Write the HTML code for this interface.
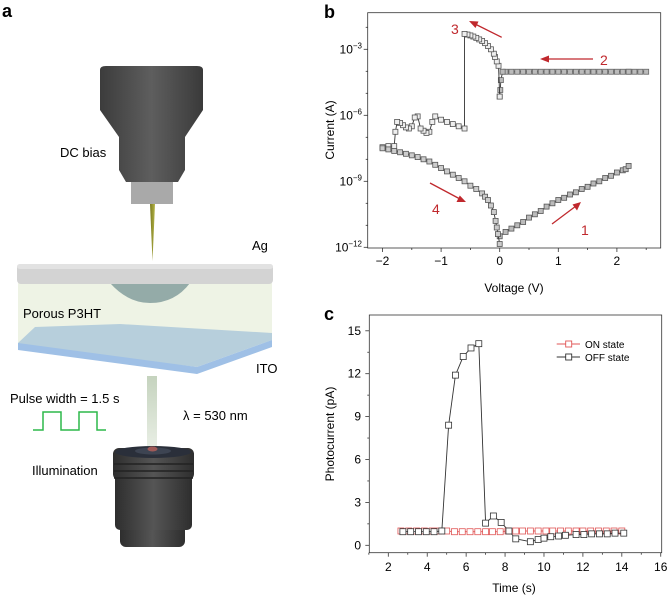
<!DOCTYPE html>
<html><head><meta charset="utf-8"><style>
html,body{margin:0;padding:0;background:#fff;}
svg{display:block;font-family:"Liberation Sans",Arial,sans-serif;}
</style></head><body>
<svg id="fig" width="669" height="600" viewBox="0 0 669 600" xmlns="http://www.w3.org/2000/svg">
<defs>
<linearGradient id="objG" x1="0" x2="1"><stop offset="0" stop-color="#3c3c3c"/><stop offset="0.5" stop-color="#5e5e5e"/><stop offset="1" stop-color="#3a3a3a"/></linearGradient>
<linearGradient id="illG" x1="0" x2="1"><stop offset="0" stop-color="#2e2e2e"/><stop offset="0.5" stop-color="#555"/><stop offset="1" stop-color="#2e2e2e"/></linearGradient>
<linearGradient id="beamG" x1="0" y1="0" x2="0" y2="1"><stop offset="0" stop-color="#c5d3be"/><stop offset="1" stop-color="#e8eee4"/></linearGradient>
<linearGradient id="needleG" x1="0" x2="1"><stop offset="0" stop-color="#7a7a20"/><stop offset="1" stop-color="#b5b548"/></linearGradient>
</defs>

<!-- Panel a -->
<g>
<text x="2" y="17" font-size="18" font-weight="bold">a</text>
<path d="M100,70 Q100,66 106,66 L197,66 Q203,66 203,70 L203,110 L185,137 L185,170 L178,182 L126,182 L119,170 L119,137 L100,110 Z" fill="url(#objG)"/>
<rect x="131" y="182" width="42" height="22" fill="#a9a9a9"/>
<polygon points="150,204 155,204 152.5,261" fill="url(#needleG)"/>
<text x="60" y="157" font-size="13">DC bias</text>
<text x="252" y="250" font-size="13">Ag</text>
<rect x="18" y="283" width="254" height="60" fill="#eef3e5"/>
<polygon points="18,343 35,327 120,324 272,333 272,340 197,367 18,346" fill="#b7cfdc"/>
<polygon points="18,343 197,367 272,340 272,347 197,374 18,350" fill="#9fc0e6"/>
<path d="M110,283 Q128,303 150,303 Q175,303 190,283 Z" fill="#94aba8"/>
<rect x="17" y="264" width="256" height="20" rx="4" fill="#d3d3d3"/>
<rect x="17" y="264" width="256" height="5" rx="3" fill="#e2e2e2"/>
<text x="23" y="318" font-size="13">Porous P3HT</text>
<text x="256" y="373" font-size="13">ITO</text>
<rect x="147" y="376" width="10" height="71" fill="url(#beamG)"/>
<text x="10" y="403" font-size="13">Pulse width = 1.5 s</text>
<polyline points="33,430 43,430 43,412 61,412 61,430 79,430 79,412 97,412 97,430 106,430" fill="none" stroke="#2db84a" stroke-width="1.5"/>
<text x="183" y="420" font-size="13">λ = 530 nm</text>
<g>
<rect x="120" y="520" width="65" height="27" rx="6" fill="url(#illG)"/>
<rect x="115" y="470" width="77" height="60" rx="5" fill="url(#illG)"/>
<rect x="113" y="448" width="81" height="32" rx="6" fill="url(#illG)"/>
<line x1="114" y1="464" x2="193" y2="464" stroke="#222" stroke-width="1.5"/>
<line x1="114" y1="471" x2="193" y2="471" stroke="#222" stroke-width="1.5"/>
<line x1="114" y1="478" x2="193" y2="478" stroke="#222" stroke-width="1.5"/>
<ellipse cx="153" cy="452" rx="38" ry="6" fill="#2a2f3a"/>
<ellipse cx="153" cy="451" rx="18" ry="3.5" fill="#3d4452"/>
<ellipse cx="152.5" cy="449" rx="5" ry="2.5" fill="#a05a58"/>
</g>
<text x="32" y="475" font-size="13">Illumination</text>
</g>

<!-- Panel b -->
<g id="pb">
<text x="324" y="18" font-size="18" font-weight="bold">b</text>
<rect x="367.7" y="12.7" width="293" height="235.3" fill="none" stroke="#333" stroke-width="0.8"/>
<text transform="translate(334,130) rotate(-90)" text-anchor="middle" font-size="12">Current (A)</text>
<text x="514" y="292" text-anchor="middle" font-size="12">Voltage (V)</text>
</g>

<!-- Panel c -->
<g id="pc">
<text x="324" y="320" font-size="18" font-weight="bold">c</text>
<rect x="369.3" y="315" width="292.4" height="237.7" fill="none" stroke="#333" stroke-width="0.8"/>
<text transform="translate(334,434) rotate(-90)" text-anchor="middle" font-size="12">Photocurrent (pA)</text>
<text x="514" y="592" text-anchor="middle" font-size="12">Time (s)</text>
<line x1="556.7" y1="344" x2="580" y2="344" stroke="#e05555" stroke-width="1"/>
<rect x="565.7" y="341" width="6" height="6" fill="#fff" stroke="#e05555" stroke-width="0.9"/>
<text x="585" y="348" font-size="10">ON state</text>
<line x1="556.7" y1="357" x2="580" y2="357" stroke="#333" stroke-width="1"/>
<rect x="565.7" y="354" width="6" height="6" fill="#fff" stroke="#333" stroke-width="0.9"/>
<text x="585" y="361" font-size="10">OFF state</text>
</g>

<!-- arrows -->
<g fill="#c0282d" font-size="14">
<line x1="593" y1="59" x2="546" y2="59" stroke="#c0282d" stroke-width="1.3"/><polygon points="540,59 549,55.5 549,62.5"/>
<text x="600" y="65">2</text>
<line x1="501.7" y1="37.3" x2="475" y2="24" stroke="#c0282d" stroke-width="1.3"/><polygon points="469,21 478.5,21.5 475.5,28"/>
<text x="451" y="34">3</text>
<line x1="552" y1="224" x2="576" y2="206" stroke="#c0282d" stroke-width="1.3"/><polygon points="581,202 577,210.5 572.5,204.5"/>
<text x="581" y="235">1</text>
<line x1="430" y1="183" x2="460" y2="199" stroke="#c0282d" stroke-width="1.3"/><polygon points="466,202 456.5,202 459.8,195.5"/>
<text x="432" y="214">4</text>
</g>
</svg>
<script>
// ---- Panel b data (voltage V, log10 current A) ----
const s1V=[0,0.1,0.2,0.3,0.4,0.5,0.6,0.7,0.8,0.9,1.0,1.1,1.2,1.3,1.4,1.5,1.6,1.7,1.8,1.9,2.0,2.1,2.15,2.2];
const s1L=[-11.5,-11.3,-11.15,-11.0,-10.85,-10.65,-10.5,-10.35,-10.15,-10.0,-9.85,-9.75,-9.6,-9.5,-9.35,-9.25,-9.1,-9.0,-8.85,-8.75,-8.6,-8.5,-8.45,-8.3];
const s2V=[2.2,2.5,2.4,2.3,2.2,2.1,2.0,1.9,1.8,1.7,1.6,1.5,1.4,1.3,1.2,1.1,1.0,0.9,0.8,0.7,0.6,0.5,0.4,0.3,0.2,0.1,0.05,0.02,0.01,0.0];
const s2L=[-4.02,-4.02,-4.02,-4.02,-4.02,-4.02,-4.02,-4.02,-4.02,-4.02,-4.02,-4.02,-4.02,-4.02,-4.02,-4.02,-4.02,-4.02,-4.02,-4.02,-4.02,-4.02,-4.02,-4.02,-4.02,-4.02,-4.02,-4.4,-4.85,-5.15];
const s3V=[0.0,-0.02,-0.05,-0.08,-0.1,-0.15,-0.2,-0.25,-0.3,-0.35,-0.4,-0.45,-0.5,-0.55,-0.6,-0.6,-0.7,-0.8,-0.9,-1.0,-1.1,-1.15,-1.2,-1.25,-1.3,-1.35,-1.4,-1.45,-1.5,-1.55,-1.6,-1.65,-1.7,-1.75,-1.78,-1.8,-1.9,-2.0];
const s3L=[-5.15,-3.75,-3.55,-3.35,-3.2,-3.0,-2.85,-2.72,-2.62,-2.55,-2.48,-2.42,-2.37,-2.33,-2.3,-6.6,-6.5,-6.4,-6.3,-6.2,-6.05,-6.3,-6.75,-6.8,-6.7,-6.6,-6.05,-6.1,-6.5,-6.6,-6.55,-6.45,-6.35,-6.3,-6.75,-7.4,-7.4,-7.45];
const s4V=[-2.0,-1.9,-1.8,-1.7,-1.6,-1.5,-1.4,-1.3,-1.2,-1.1,-1.0,-0.9,-0.8,-0.7,-0.6,-0.5,-0.4,-0.3,-0.25,-0.2,-0.15,-0.1,-0.07,-0.05,-0.03,0.0];
const s4L=[-7.5,-7.55,-7.62,-7.68,-7.75,-7.82,-7.9,-8.0,-8.1,-8.25,-8.4,-8.55,-8.7,-8.85,-9.0,-9.2,-9.35,-9.55,-9.7,-9.85,-10.1,-10.4,-10.8,-11.1,-11.4,-11.85];
const bXTicks=[-2,-1,0,1,2];
const bXTickLabels=["\u22122","\u22121","0","1","2"];
const bYTicks=[-3,-6,-9,-12];
const bYTickLabels=["\u22123","\u22126","\u22129","\u221212"];
// ---- Panel c data ----
const onT=[2.65,3.05,3.45,3.85,4.25,4.6,5.0,5.4,5.8,6.2,6.6,7.0,7.35,7.75,8.15,8.55,8.9,9.3,9.7,10.1,10.45,10.85,11.25,11.65,12.0,12.4,12.8,13.2,13.6,14.0];
const onP=[1.0,1.0,1.0,1.0,1.0,1.0,1.0,0.95,0.95,0.95,0.95,0.95,0.95,0.95,1.0,1.0,1.0,1.0,1.0,1.0,1.0,1.0,1.0,1.0,1.0,1.0,1.0,1.0,1.0,1.0];
const offT=[2.75,3.15,3.55,3.95,4.35,4.75,5.1,5.45,5.85,6.25,6.65,7.0,7.4,7.8,8.2,8.55,9.3,9.7,10.0,10.35,10.75,11.1,11.65,12.05,12.45,12.85,13.25,13.65,14.1];
const offP=[0.95,0.95,0.95,0.95,0.95,1.0,8.4,11.9,13.2,13.8,14.1,1.55,2.05,1.6,1.0,0.45,0.25,0.4,0.5,0.6,0.65,0.7,0.75,0.75,0.8,0.8,0.8,0.85,0.85];
const cXTicks=[2,4,6,8,10,12,14,16];
const cYTicks=[0,3,6,9,12,15];

const NS="http://www.w3.org/2000/svg";
function mk(tag,attrs,parent){const e=document.createElementNS(NS,tag);for(const k in attrs)e.setAttribute(k,attrs[k]);parent.appendChild(e);return e;}
const pb=document.getElementById('pb'), pc=document.getElementById('pc');
const xb=v=>499.7+v*58.6, yb=l=>247.3-(l+12)*22;
const xc=t=>388.3+(t-2)*19.46, yc=p=>545.3-p*14.3;

for(let v=-2;v<=2.5;v+=0.5){const major=Number.isInteger(v);const t=mk('line',{x1:xb(v),x2:xb(v),y1:248,y2:major?252:250,stroke:'#333','stroke-width':0.8},pb);

}
bXTicks.forEach((v,i)=>{const t=mk('text',{x:xb(v),y:265,'text-anchor':'middle','font-size':12},pb);t.textContent=bXTickLabels[i];

});
for(let l=-12;l<=-2;l++){const major=bYTicks.includes(l);const t=mk('line',{x1:major?363.7:365.7,x2:367.7,y1:yb(l),y2:yb(l),stroke:'#333','stroke-width':0.8},pb);

}
bYTicks.forEach((l,i)=>{const t=mk('text',{x:362,y:yb(l)+4,'text-anchor':'end','font-size':12},pb);t.textContent='10';
const s=mk('tspan',{dy:-5,'font-size':8},t);s.textContent=bYTickLabels[i];

});

function drawSeries(par,V,L,fx,fy,name,stroke,fill,lineCol,sz){
  const pts=V.map((v,i)=>fx(v)+','+fy(L[i])).join(' ');
  const pl=mk('polyline',{points:pts,fill:'none',stroke:lineCol,'stroke-width':0.9},par);
  
  
  V.forEach((v,i)=>{const r=mk('rect',{x:fx(v)-sz/2,y:fy(L[i])-sz/2,width:sz,height:sz,fill:fill,stroke:stroke,'stroke-width':0.8},par);
  
  });
}
drawSeries(pb,s1V,s1L,xb,yb,'sweep-1','#555','#bbb','#333',5);
drawSeries(pb,s2V,s2L,xb,yb,'sweep-2','#666','#bbb','#333',5);
drawSeries(pb,s3V,s3L,xb,yb,'sweep-3','#555','#eee','#333',5);
drawSeries(pb,s4V,s4L,xb,yb,'sweep-4','#555','#ccc','#333',5);

for(let t=1;t<=16;t++){const major=t%2===0;const e=mk('line',{x1:xc(t),x2:xc(t),y1:552.7,y2:major?556.7:554.7,stroke:'#333','stroke-width':0.8},pc);

}
cXTicks.forEach(t=>{const e=mk('text',{x:xc(t),y:571,'text-anchor':'middle','font-size':12},pc);e.textContent=t;

});
for(let p=0;p<=15;p+=1.5){const major=cYTicks.includes(p);const e=mk('line',{x1:major?365.3:367.3,x2:369.3,y1:yc(p),y2:yc(p),stroke:'#333','stroke-width':0.8},pc);

}
cYTicks.forEach(p=>{const e=mk('text',{x:361,y:yc(p)+4,'text-anchor':'end','font-size':12},pc);e.textContent=p;

});
drawSeries(pc,onT,onP,xc,yc,'on-state','#e05555','#fff','#e05555',6);
drawSeries(pc,offT,offP,xc,yc,'off-state','#333','#fff','#333',6);
</script>
</body></html>
